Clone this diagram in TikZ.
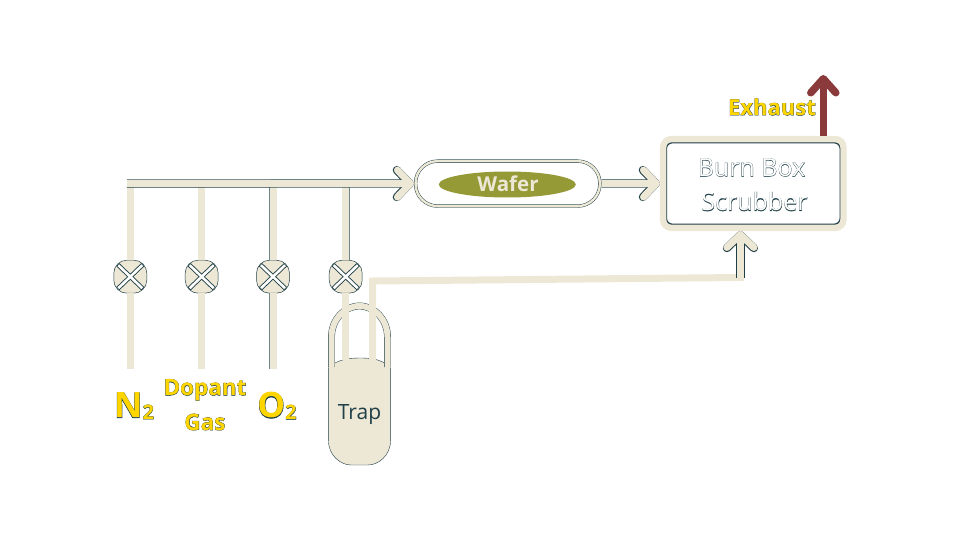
\documentclass[tikz,border=0pt]{standalone}
\usepackage{fontspec}
\setmainfont{Open Sans}
\newfontfamily\regedge{Open Sans}[FakeBold=1.6]
\newfontfamily\boldedge{Open Sans}[BoldFeatures={FakeBold=2}]
\usetikzlibrary{arrows.meta,shapes.geometric}
\definecolor{beige}{HTML}{EDE7D5}
\definecolor{edge}{HTML}{1F3F47}
\definecolor{softedge}{HTML}{6F878A}
\definecolor{gold}{HTML}{FFD500}
\definecolor{olive}{HTML}{959A36}
\definecolor{brick}{HTML}{8A3A3A}
\newcommand{\outreg}[1]{\leavevmode\rlap{\regedge\color{edge}#1}{\color{white}#1}}
\newcommand{\outgold}[1]{\leavevmode\rlap{\boldedge\bfseries\color{edge}#1}{\bfseries\color{gold}#1}}
\tikzset{
  pipe/.style={draw=beige,line width=7pt,line join=miter},
  edgedpipe/.style={pipe,preaction={draw=softedge,line width=7.8pt,-}},
  flow/.style={pipe,-{Straight Barb[round,length=13pt,width=27pt]},preaction={draw=edge,line width=8.2pt,-{Straight Barb[round,length=13pt,width=27pt]}}},
  hotflow/.style={draw=brick,line width=7.5pt,-{Straight Barb[round,length=14pt,width=25pt]}},
  valvebody/.style={draw=edge,line width=.5pt,fill=beige,rectangle,rounded corners=13pt,minimum size=33pt,inner sep=0pt},
  xdark/.style={draw=edge,line width=4.4pt},
  xlight/.style={draw=white,line width=2.6pt},
  gaslabel/.style={inner sep=0pt,align=center},
}
\begin{document}
\begin{tikzpicture}[x=1pt,y=-1pt]
\useasboundingbox (0,0) rectangle (960,540);
% named anchors
\coordinate (mainstart) at (127,183.4);
\coordinate (t1) at (130.3,183.4);
\coordinate (t2) at (201.7,183.4);
\coordinate (t3) at (273,183.4);
\coordinate (t4) at (345.7,183.4);
\coordinate (s1) at (130.3,368.7);
\coordinate (s2) at (201.7,368.7);
\coordinate (s3) at (273,368.7);
\coordinate (inA) at (345.7,360);
\coordinate (inB) at (372.7,360);
\coordinate (bend1) at (372.7,281);
\coordinate (bend2) at (740.4,277.5);
\coordinate (exhaustend) at (823.3,75);
% trap
\fill[beige,draw=edge,line width=.4pt] (328.4,366.5) .. controls (340,360) and (345,358) .. (360,358)
  .. controls (375,358) and (380,360) .. (390.6,366.5) -- (390.6,440)
  .. controls (390.6,456) and (378,465) .. (368,465) -- (351,465)
  .. controls (341,465) and (328.4,456) .. (328.4,440) -- cycle;
\path[draw=edge,line width=6.8pt] (331.5,367) -- (331.5,337) arc[start angle=180,end angle=360,x radius=28,y radius=31] -- (387.5,367);
\path[draw=beige,line width=6pt] (331.5,368) -- (331.5,337) arc[start angle=180,end angle=360,x radius=28,y radius=31] -- (387.5,368);
\node[inner sep=0pt,text=edge,font=\fontsize{21}{24}\selectfont] (traplabel) at (359.5,415) {Trap};
% valves
\foreach \n/\x in {1/130.3,2/201.7,3/273,4/345.7}{
  \node[valvebody] (v\n) at (\x,276.7) {};
}
% gas lines
\draw[pipe] (t1) -- (v1.north);
\draw[pipe] (t2) -- (v2.north);
\draw[edgedpipe] (t3) -- (v3.north);
\draw[edgedpipe] (t4) -- (v4.north);
\draw[pipe] (v1.south) -- (s1);
\draw[pipe] (v2.south) -- (s2);
\draw[edgedpipe] (v3.south) -- (s3);
\draw[pipe] (v4.south) -- (inA);
\draw[pipe] (inB) -- (bend1) -- (bend2) -- ++(0,-2);
% valve crosses
\foreach \n in {1,2,3,4}{
  \draw[xdark] ([shift={(-12.5,-12)}]v\n.center) -- ([shift={(12.5,12)}]v\n.center);
  \draw[xdark] ([shift={(12.5,-12)}]v\n.center) -- ([shift={(-12.5,12)}]v\n.center);
  \draw[xlight] ([shift={(-12,-11.5)}]v\n.center) -- ([shift={(12,11.5)}]v\n.center);
  \draw[xlight] ([shift={(12,-11.5)}]v\n.center) -- ([shift={(-12,11.5)}]v\n.center);
}
% wafer capsule
\node[draw=edge,line width=3.3pt,rounded corners=22pt,minimum width=184.3pt,minimum height=44.9pt,inner sep=0pt] (capsule) at (507.7,183.6) {};
\node[draw=beige,line width=2.4pt,rounded corners=22pt,minimum width=184.3pt,minimum height=44.9pt,inner sep=0pt] (capsuleb) at (507.7,183.6) {};
\node[ellipse,fill=olive,minimum width=137pt,minimum height=26pt,inner sep=0pt] (waferdisc) at (507.3,184.5) {};
\node[inner sep=0pt,text=beige,font=\bfseries\fontsize{20.5}{24}\selectfont] (wafer) at (508,184) {Wafer};
% box
\node[draw=edge,line width=3.4pt,rounded corners=7pt,minimum width=176pt,minimum height=83.6pt,inner sep=0pt] (boxedge) at (753.3,183.5) {};
\node[draw=beige,line width=6.4pt,rounded corners=8pt,minimum width=180.3pt,minimum height=88.6pt,inner sep=0pt] (box) at (753.3,183.5) {};
\node[inner sep=0pt,font=\fontsize{25}{30}\selectfont] (burn) at (751.5,167.5) {\outreg{Burn Box}};
\node[inner sep=0pt,font=\fontsize{25}{30}\selectfont] (scrub) at (754.5,201.5) {\outreg{Scrubber}};
% arrows
\draw[flow] (mainstart) -- (capsule.west);
\draw[flow] (capsule.east) -- (box.west);
\draw[flow] (bend2) -- (box.south -| bend2);
\draw[hotflow] (box.north -| exhaustend) -- (exhaustend);
% labels
\node[gaslabel,font=\fontsize{22}{24}\selectfont] (exhaust) at (772,107) {\outgold{Exhaust}};
\node[gaslabel] (n2) at (134,406) {\outgold{\fontsize{35}{40}\selectfont N\raisebox{-1.5pt}{\fontsize{20}{20}\selectfont 2}}};
\node[gaslabel,font=\fontsize{22.5}{25}\selectfont] (dopant) at (205,390) {\outgold{Dopant}};
\node[gaslabel,font=\fontsize{22.5}{25}\selectfont] (gas) at (205,422) {\outgold{Gas}};
\node[gaslabel] (o2) at (277,406) {\outgold{\fontsize{35}{40}\selectfont O\raisebox{-1.5pt}{\fontsize{20}{20}\selectfont 2}}};
\end{tikzpicture}
\end{document}
